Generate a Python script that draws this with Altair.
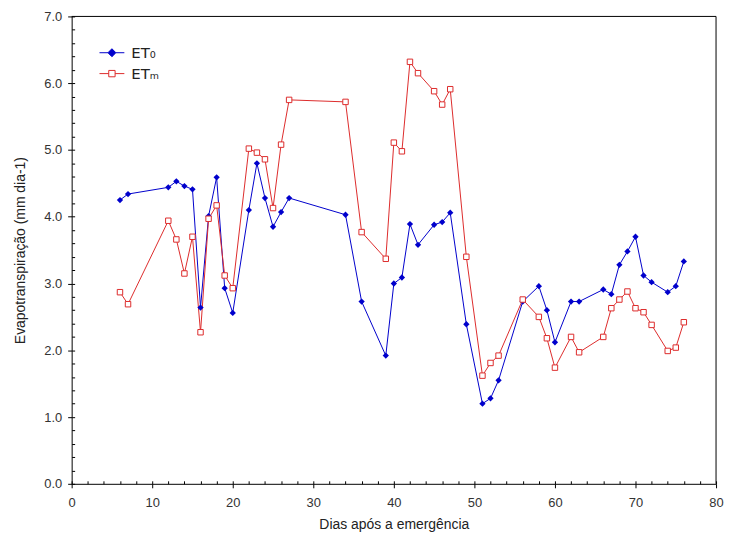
import altair as alt
import pandas as pd

days = [6, 7, 12, 13, 14, 15, 16, 17, 18, 19, 20, 22, 23, 24, 25, 26, 27, 34, 36, 39, 40, 41, 42, 43,
        45, 46, 47, 49, 51, 52, 53, 56, 58, 59, 60, 62, 63, 66, 67, 68, 69, 70, 71, 72, 74, 75, 76]
et0 = [4.25, 4.34, 4.44, 4.53, 4.46, 4.41, 2.64, 4.01, 4.59, 2.93, 2.56, 4.10, 4.80, 4.28, 3.85, 4.07,
       4.28, 4.03, 2.73, 1.92, 3.00, 3.09, 3.89, 3.58, 3.88, 3.92, 4.06, 2.39, 1.20, 1.28, 1.55, 2.73,
       2.96, 2.60, 2.12, 2.73, 2.73, 2.91, 2.84, 3.28, 3.48, 3.70, 3.12, 3.02, 2.87, 2.96, 3.33]
etm = [2.87, 2.69, 3.94, 3.66, 3.15, 3.70, 2.27, 3.97, 4.17, 3.12, 2.93, 5.02, 4.96, 4.86, 4.13, 5.08,
       5.75, 5.72, 3.77, 3.37, 5.11, 4.98, 6.32, 6.15, 5.88, 5.68, 5.91, 3.40, 1.62, 1.81, 1.92, 2.76,
       2.50, 2.18, 1.74, 2.20, 1.97, 2.20, 2.63, 2.76, 2.88, 2.63, 2.57, 2.38, 1.99, 2.04, 2.42]
series_names = ["ET₀", "ETₘ"]
x_major = list(range(0, 81, 10))
x_minor = list(range(0, 81, 2))
y_major = [float(i) for i in range(0, 8)]
y_minor = [i / 5 for i in range(0, 36)]

BLUE = "#0000cc"
RED = "#dd2b2b"
W, H = 648, 470

df = pd.DataFrame({"dia": days, "et0": et0, "etm": etm})
legend_df = pd.DataFrame({"serie": series_names})
frame_df = pd.DataFrame({"k": [0]})

x_scale = alt.Scale(domain=[0, 80], nice=False, zero=False)
y_scale = alt.Scale(domain=[0, 7], nice=False)

base = alt.Chart(df)

# inward ticks: axes on the opposite side, moved onto the plot edge
inner = base.mark_point(opacity=0).encode(
    x=alt.X("dia:Q", scale=x_scale,
            axis=alt.Axis(values=x_minor, labels=False, title=None, tickSize=3, grid=False, domain=False,
                          orient="top", offset=-H)),
    y=alt.Y("et0:Q", scale=y_scale,
            axis=alt.Axis(values=y_minor, labels=False, title=None, tickSize=3, grid=False, domain=False,
                          orient="right", offset=-W)),
)

line0 = base.mark_line(color=BLUE, strokeWidth=1).encode(
    x=alt.X("dia:Q", scale=x_scale,
            axis=alt.Axis(title="Dias após a emergência", values=x_major, format="d", tickSize=4,
                          grid=False, labelOverlap=False, labelFlush=False, orient="bottom",
                          labelPadding=9, titlePadding=8)),
    y=alt.Y("et0:Q", scale=y_scale,
            axis=alt.Axis(title="Evapotranspiração (mm dia-1)", values=y_major, format=".1f", tickSize=4,
                          grid=False, labelOverlap=False, labelFlush=False, orient="left",
                          labelPadding=6, titlePadding=16)),
)
pts0 = base.mark_point(shape="diamond", filled=True, color=BLUE, size=40, opacity=1).encode(
    x="dia:Q", y="et0:Q"
)
line1 = base.mark_line(color=RED, strokeWidth=1).encode(x="dia:Q", y="etm:Q")
pts1 = base.mark_point(shape="square", filled=False, fill="white", stroke=RED, strokeWidth=1,
                       size=30, opacity=1).encode(x="dia:Q", y="etm:Q")

# top and right frame edges of the plot box
frame_top = alt.Chart(frame_df).mark_rule(color="#000", strokeWidth=1).encode(
    x=alt.value(0), x2=alt.value(W), y=alt.value(0)
)
frame_right = alt.Chart(frame_df).mark_rule(color="#000", strokeWidth=1).encode(
    x=alt.value(W), y=alt.value(0), y2=alt.value(H)
)

diamond_leg = "M-1.25,0L-0.4,0M0.4,0L1.25,0M0,-0.4L0.4,0L0,0.4L-0.4,0Z"
square_leg = "M-1.25,0L-0.32,0M0.32,0L1.25,0M-0.32,-0.32L0.32,-0.32L0.32,0.32L-0.32,0.32Z"

legend_layer = alt.Chart(legend_df).transform_filter("false").mark_point(opacity=1).encode(
    shape=alt.Shape("serie:N", scale=alt.Scale(domain=series_names, range=[diamond_leg, square_leg]),
                    legend=alt.Legend(title=None, orient="none", legendX=30, legendY=26,
                                      symbolSize=400, symbolStrokeWidth=1,
                                      labelFont="DejaVu Sans", labelFontSize=15,
                                      labelColor="#222", rowPadding=2, labelOffset=9)),
    stroke=alt.Stroke("serie:N", scale=alt.Scale(domain=series_names, range=[BLUE, RED]), legend=None),
    fill=alt.Fill("serie:N", scale=alt.Scale(domain=series_names, range=[BLUE, "white"]), legend=None),
)

main = alt.layer(line0, line1, pts0, pts1, frame_top, frame_right, legend_layer)

chart = alt.layer(inner, main).resolve_scale(x="independent", y="independent").resolve_axis(
    x="independent", y="independent"
).properties(
    width=W, height=H,
    autosize=alt.AutoSizeParams(type="none"),
    padding={"left": 64, "top": 7, "right": 8, "bottom": 50},
).configure_view(stroke=None).configure_axis(
    domainColor="#000", tickColor="#000", labelColor="#333", titleColor="#222",
    labelFont="Liberation Sans", titleFont="Liberation Sans",
    labelFontSize=13, titleFontSize=14, titleFontWeight="normal",
)

chart.save("out.html", embed_options={"renderer": "svg", "actions": False})
